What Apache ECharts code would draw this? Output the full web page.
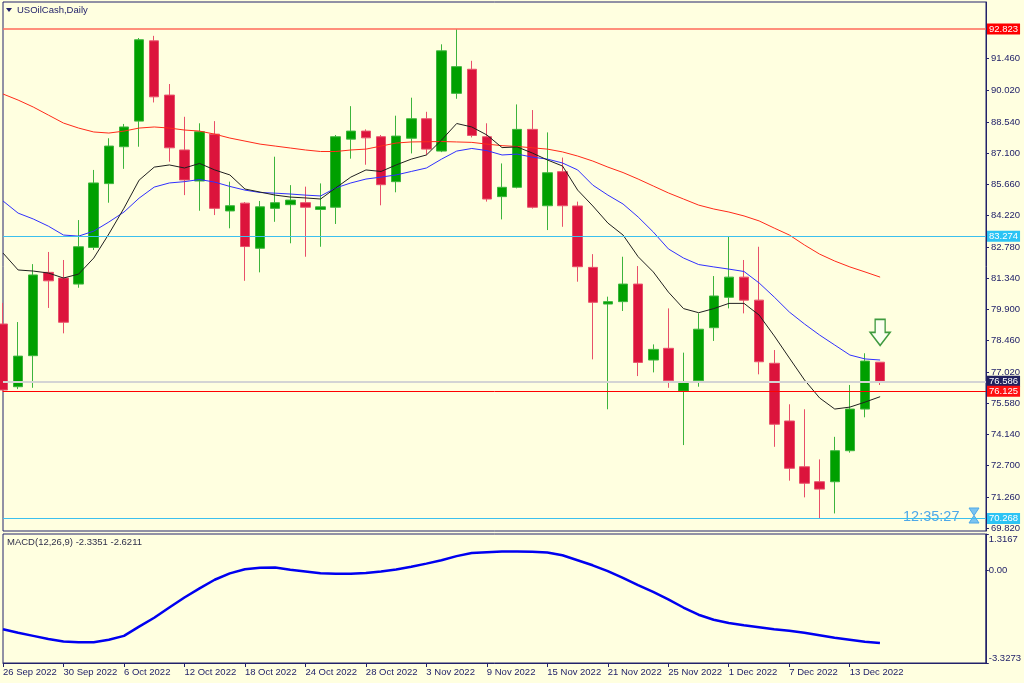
<!DOCTYPE html>
<html>
<head>
<meta charset="utf-8">
<title>USOilCash,Daily</title>
<script src="https://cdn.jsdelivr.net/npm/echarts/dist/echarts.min.js"></script>
<style>
  html, body { margin: 0; padding: 0; background: #ffffe0; }
  #chart { width: 1024px; height: 683px; }
</style>
</head>
<body>
<div id="chart"></div>
<script>
// daily bars, 26 Sep - 15 Dec 2022
var dates = ['26 Sep 2022','27 Sep 2022','28 Sep 2022','29 Sep 2022','30 Sep 2022',
  '3 Oct 2022','4 Oct 2022','5 Oct 2022','6 Oct 2022','7 Oct 2022','10 Oct 2022','11 Oct 2022','12 Oct 2022',
  '13 Oct 2022','14 Oct 2022','17 Oct 2022','18 Oct 2022','19 Oct 2022','20 Oct 2022','21 Oct 2022',
  '24 Oct 2022','25 Oct 2022','26 Oct 2022','27 Oct 2022','28 Oct 2022','31 Oct 2022',
  '1 Nov 2022','2 Nov 2022','3 Nov 2022','4 Nov 2022','7 Nov 2022','8 Nov 2022','9 Nov 2022','10 Nov 2022',
  '11 Nov 2022','14 Nov 2022','15 Nov 2022','16 Nov 2022','17 Nov 2022','18 Nov 2022','21 Nov 2022',
  '22 Nov 2022','23 Nov 2022','24 Nov 2022','25 Nov 2022','28 Nov 2022','29 Nov 2022','30 Nov 2022',
  '1 Dec 2022','2 Dec 2022','5 Dec 2022','6 Dec 2022','7 Dec 2022','8 Dec 2022','9 Dec 2022',
  '12 Dec 2022','13 Dec 2022','14 Dec 2022','15 Dec 2022'];

var open = [79.23,76.34,77.77,81.61,81.35,81.07,82.76,85.70,87.40,88.58,92.28,89.78,87.25,85.82,87.98,84.44,84.80,82.72,84.56,84.73,
  84.82,84.51,84.61,87.75,88.12,87.86,85.79,87.79,88.69,87.20,89.86,90.97,87.86,85.10,85.53,88.20,84.68,86.25,84.67,81.84,
  80.15,80.26,81.07,77.57,78.11,76.14,76.62,79.06,80.46,81.39,80.33,77.42,74.76,72.65,71.96,71.96,73.39,75.31,77.47];
var close = [76.19,77.75,81.49,81.22,79.31,82.79,85.73,87.43,88.31,92.33,89.70,87.35,85.87,88.09,84.56,84.68,82.80,84.63,84.82,84.94,
  84.61,84.63,87.86,88.12,87.81,85.65,87.89,88.69,87.29,91.82,91.09,87.92,84.99,85.53,88.20,84.61,86.20,84.68,81.87,80.23,
  80.26,81.07,77.46,78.06,76.62,76.57,78.99,80.52,81.39,80.33,77.49,74.61,72.58,71.89,71.62,73.39,75.31,77.52,76.59];
var high = [80.20,79.32,81.99,82.55,82.18,84.02,86.33,87.79,88.45,92.41,92.51,90.29,88.78,88.48,88.58,85.79,84.85,84.90,86.94,85.63,
  85.56,85.71,87.94,89.27,88.20,87.94,88.83,89.66,89.01,92.12,92.82,91.36,88.48,86.63,89.35,89.09,88.06,86.90,84.87,82.45,
  80.49,82.33,81.90,78.29,79.95,77.91,79.72,81.44,83.27,82.18,82.79,78.03,75.53,75.30,72.99,74.03,76.42,77.88,77.47];
var low = [76.10,76.23,76.29,79.97,78.80,80.90,82.64,84.82,86.38,87.40,89.44,86.71,85.17,84.45,84.25,83.64,81.22,81.61,83.94,82.95,
  82.33,82.79,83.84,86.85,86.57,84.70,85.30,87.09,87.02,87.15,89.61,87.83,84.87,84.05,85.48,84.55,83.56,83.71,81.18,77.60,
  75.30,79.83,76.83,77.00,76.29,73.65,76.34,78.45,79.95,79.72,76.91,73.57,72.01,71.24,70.27,70.50,73.30,74.93,76.42];

// moving averages
var maSlow = [89.83,89.55,89.23,88.86,88.49,88.26,88.08,88.03,88.12,88.26,88.31,88.26,88.17,88.12,87.98,87.80,87.66,87.52,87.43,87.34,
  87.25,87.18,87.18,87.25,87.29,87.43,87.57,87.62,87.63,87.64,87.62,87.60,87.52,87.45,87.41,87.35,87.29,87.16,86.97,86.74,
  86.46,86.21,85.91,85.59,85.27,84.99,84.71,84.53,84.39,84.21,83.98,83.65,83.33,82.87,82.45,82.13,81.86,81.63,81.39];
var maMid = [84.90,84.34,84.07,83.74,83.33,83.28,83.51,83.93,84.39,85.03,85.54,85.73,85.79,85.89,85.77,85.57,85.40,85.29,85.26,85.22,
  85.17,85.13,85.50,85.73,85.91,86.00,86.10,86.26,86.42,86.83,87.20,87.32,87.22,87.02,87.06,86.92,86.83,86.65,86.33,85.63,
  85.17,84.76,84.16,83.47,82.69,82.27,81.97,81.86,81.76,81.65,81.12,80.47,79.78,79.23,78.72,78.26,77.80,77.62,77.57];
var maFast = [82.50,81.72,81.67,81.58,81.35,81.53,82.27,83.38,84.57,85.86,86.46,86.56,86.42,86.63,86.33,86.10,85.45,85.31,85.17,85.08,
  85.04,84.99,85.50,86.00,86.33,86.26,86.56,86.83,87.02,87.71,88.47,88.31,87.94,87.36,87.39,87.11,86.79,86.51,85.40,84.67,
  83.88,83.33,82.33,81.63,80.70,79.94,79.75,79.94,80.18,80.18,79.64,78.68,77.66,76.65,75.82,75.31,75.40,75.63,75.88];

var macd = [-2.11,-2.24,-2.35,-2.46,-2.55,-2.58,-2.58,-2.49,-2.35,-2.02,-1.70,-1.33,-0.97,-0.64,-0.33,-0.10,0.05,0.10,0.11,0.03,
  -0.03,-0.10,-0.11,-0.11,-0.09,-0.03,0.04,0.14,0.25,0.37,0.52,0.63,0.66,0.69,0.69,0.68,0.65,0.55,0.37,0.19,
  -0.02,-0.26,-0.52,-0.77,-1.04,-1.33,-1.59,-1.77,-1.89,-1.97,-2.04,-2.11,-2.17,-2.24,-2.33,-2.42,-2.49,-2.56,-2.61];

var priceTicks = [69.82,71.26,72.70,74.14,75.58,77.02,78.46,79.90,81.34,82.78,84.22,85.66,87.10,88.54,90.02,91.46];
var macdTicks = [-3.3273, 0, 1.3167];
var levels = [92.823, 83.274, 76.586, 76.125, 70.268];
var arrowPrice = 78.84;
var emptySlots = 7;

var NAVY = '#22226a';
var FONT = 'Liberation Sans';

var cats = dates.concat(new Array(emptySlots).fill(''));
var candles = dates.map(function(d, i) { return [open[i], close[i], low[i], high[i]]; });

// line colour / box colour for each level
var levelStyle = [
  { line: '#ff6a5a', box: '#ff0000', width: 1.5 },
  { line: '#3cc0ee', box: '#2cc4f4', width: 1.2 },
  { line: '#d4d4d4', box: '#20205e', width: 2 },
  { line: '#ff0000', box: '#ff1010', width: 1 },
  { line: '#3cc0ee', box: '#2cc4f4', width: 1.2 }
];

var chart = echarts.init(document.getElementById('chart'));

var option = {
  animation: false,
  backgroundColor: '#ffffe0',
  textStyle: { fontFamily: FONT },
  grid: [
    { left: 3, top: 2, width: 983, height: 529, show: true, borderColor: NAVY, borderWidth: 1, backgroundColor: '#ffffe0' },
    { left: 3, top: 534, width: 983, height: 129, show: true, borderColor: NAVY, borderWidth: 1, backgroundColor: '#ffffe0' }
  ],
  xAxis: [
    { type: 'category', gridIndex: 0, data: cats, boundaryGap: false, show: false },
    {
      type: 'category', gridIndex: 1, data: cats, boundaryGap: false,
      axisLine: { onZero: false, lineStyle: { color: NAVY } },
      axisTick: {
        length: 4, lineStyle: { color: NAVY },
        interval: function(i, v) { return i % 4 === 0 && v !== ''; }
      },
      axisLabel: {
        align: 'left', color: NAVY, fontSize: 9.5, margin: 4, fontFamily: FONT,
        interval: function(i, v) { return i % 4 === 0 && v !== ''; }
      }
    }
  ],
  yAxis: [
    {
      type: 'value', gridIndex: 0, position: 'right', min: 69.69, max: 94.07,
      splitLine: { show: false },
      axisLine: { show: true, lineStyle: { color: NAVY } },
      axisTick: { show: true, length: 3, customValues: priceTicks, lineStyle: { color: NAVY } },
      axisLabel: {
        customValues: priceTicks, color: NAVY, fontSize: 9.5, margin: 5, fontFamily: FONT,
        formatter: function(v) { return v.toFixed(3); }
      }
    },
    {
      type: 'value', gridIndex: 1, position: 'right', min: -3.3273, max: 1.3167,
      splitLine: { show: false },
      axisLine: { show: true, lineStyle: { color: NAVY } },
      axisTick: { show: true, length: 3, customValues: macdTicks, lineStyle: { color: NAVY } },
      axisLabel: {
        customValues: macdTicks, color: NAVY, fontSize: 9.5, margin: 3, fontFamily: FONT,
        verticalAlignMaxLabel: 'top', verticalAlignMinLabel: 'bottom',
        formatter: function(v) { return v === 0 ? '0.00' : v.toFixed(4); }
      }
    }
  ],
  series: [
    {
      name: 'USOilCash', type: 'candlestick', xAxisIndex: 0, yAxisIndex: 0,
      data: candles, barWidth: 10, clip: true,
      itemStyle: {
        color: '#00a000', color0: '#dc143c',
        borderColor: '#3cb43c', borderColor0: '#e8506a', borderWidth: 1
      },
      markLine: {
        silent: true, symbol: 'none',
        data: levels.map(function(v, i) {
          var s = levelStyle[i];
          return {
            yAxis: v,
            lineStyle: { color: s.line, width: s.width, type: 'solid' },
            label: {
              show: true, position: 'end', distance: 1,
              formatter: v.toFixed(3), color: '#ffffff', fontSize: 9.5, fontFamily: FONT,
              backgroundColor: s.box, padding: [1, 2, 0, 2]
            }
          };
        })
      },
      markPoint: {
        silent: true,
        symbol: 'path://M5,0 L15,0 L15,13 L20,13 L10,26 L0,13 L5,13 Z',
        symbolSize: [20, 26],
        itemStyle: { color: '#fbfff0', borderColor: '#3f9a3f', borderWidth: 1.5 },
        label: { show: false },
        data: [{ coord: [dates[dates.length - 1], arrowPrice] }]
      }
    },
    {
      name: 'MA slow', type: 'line', xAxisIndex: 0, yAxisIndex: 0, data: maSlow,
      symbol: 'none', lineStyle: { color: '#ff2a1a', width: 1 }, z: 3
    },
    {
      name: 'MA mid', type: 'line', xAxisIndex: 0, yAxisIndex: 0, data: maMid,
      symbol: 'none', lineStyle: { color: '#3030ff', width: 1 }, z: 3
    },
    {
      name: 'MA fast', type: 'line', xAxisIndex: 0, yAxisIndex: 0, data: maFast,
      symbol: 'none', lineStyle: { color: '#202020', width: 1 }, z: 3
    },
    {
      name: 'MACD', type: 'line', xAxisIndex: 1, yAxisIndex: 1, data: macd,
      symbol: 'none', lineStyle: { color: '#0000f0', width: 2.5 }
    }
  ],
  graphic: [
    { type: 'polygon', shape: { points: [[6, 8], [12, 8], [9, 12]] }, style: { fill: NAVY } },
    { type: 'text', left: 17, top: 5, style: { text: 'USOilCash,Daily', fill: NAVY, fontSize: 9.5, fontFamily: FONT } },
    { type: 'text', left: 7, top: 537, style: { text: 'MACD(12,26,9) -2.3351 -2.6211', fill: '#30304a', fontSize: 9.5, fontFamily: FONT } },
    { type: 'text', left: 903, top: 509, style: { text: '12:35:27', fill: '#4ea8e8', fontSize: 14.5, fontFamily: FONT } },
    { type: 'polygon', shape: { points: [[969, 508], [979, 508], [974, 515.5]] }, style: { fill: '#7cc4f0', stroke: '#4ea8e8', lineWidth: 1 } },
    { type: 'polygon', shape: { points: [[974, 515.5], [979, 523], [969, 523]] }, style: { fill: '#7cc4f0', stroke: '#4ea8e8', lineWidth: 1 } }
  ]
};

chart.setOption(option);
</script>
</body>
</html>
